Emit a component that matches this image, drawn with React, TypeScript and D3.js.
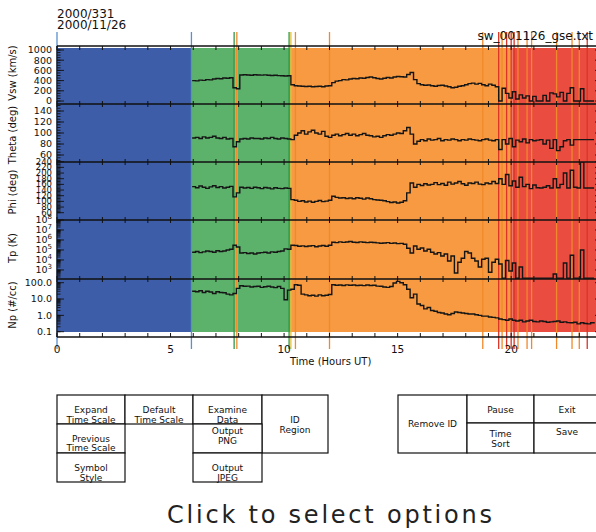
import React from "react";
import * as d3 from "d3";

const DAY_OF_YEAR = "2000/331";
const DATE_TEXT = "2000/11/26";
const FILE_NAME = "sw_001126_gse.txt";
const X_AXIS_TITLE = "Time (Hours UT)";
const FOOTER = "Click to select options";

const START_HOUR = 5.95;
const SAMPLE_HOURS = 0.15;

const VSW = [
  400, 395, 410, 405, 420, 415, 430, 440, 435, 450, 445, 455,
  260, 240,
  510, 515, 510, 505, 515, 510, 508, 512, 505, 500, 505, 498, 495, 490, 495,
  320,
  300, 295, 290, 285, 290, 280, 285, 290, 280, 295, 300,
  360, 390, 400, 420, 415, 430, 440, 435, 450, 445, 460, 470, 455, 440,
  430, 445, 460, 450, 470, 480, 475, 470,
  520, 560, 420, 340, 320, 310,
  315, 300, 290, 305, 310, 295, 280, 260, 270, 290, 300, 320, 340, 350, 330, 345, 320, 300, 330,
  310, 280,
  0, 250, 150, 60, 180, 40, 120, 60, 100, 0, 90, 0, 0, 110, 0, 160, 140, 80, 170, 0, 150, 260, 0, 0, 240, 0, 0, 0, 0,
];

const THETA = [
  91, 92, 90, 93, 91, 92, 94, 91, 90, 92, 89, 90,
  75, 84,
  89, 90, 89, 91, 90, 90, 89, 91, 90, 92, 90, 89, 91, 90, 89,
  88,
  96, 100, 104, 98, 102, 105, 100, 98, 103, 94, 92,
  96, 98, 95, 97, 99, 96, 98, 95, 97, 99, 96, 95, 93, 94,
  92, 95, 97, 96, 98, 100, 99, 104,
  110, 98, 80, 85, 88, 86,
  89, 87, 88, 90, 86, 88, 87, 89, 88, 86, 88, 87, 89, 88, 87, 86, 88, 89, 87, 86, 88,
  70, 88, 80, 90, 75, 87, 84, 89, 82, 88, 86, 87, 88, 80, 87, 72, 88, 68, 75, 86, 88, 78, 88, 88, 88, 88, 88, 88, 88,
];

const PHI = [
  152, 148, 154, 150, 146, 151, 155, 149, 152, 147, 150, 153,
  116, 130,
  150, 147, 149, 146, 150, 148, 145, 149, 147, 144, 148, 146, 145, 147, 146,
  106,
  104, 100, 102, 98, 101, 97, 100, 103, 99, 101, 104,
  118, 114, 112, 113, 110, 112, 109, 113, 111, 108, 112, 109, 106, 105,
  104, 102, 99, 96, 98, 94, 97, 102,
  130, 165, 150, 160,
  156, 162, 158, 160, 166, 159, 163, 157, 168, 161, 165, 170, 162, 157, 165, 163, 168, 161, 159, 165, 162, 170, 163,
  180, 160, 195, 155, 172, 150, 185, 152, 160, 145, 158, 148, 147, 150, 155, 147, 180, 148, 160, 200, 147, 210, 150, 147, 240, 147, 147, 147, 147,
];

const TP = [
  6e4, 7e4, 5.5e4, 6.5e4, 8e4, 7e4, 6e4, 8.5e4, 7e4, 8e4, 1e5, 1.2e5,
  3e5, 2e5,
  5e4, 5.5e4, 4.5e4, 5e4, 4e4, 5e4, 5.5e4, 6e4, 5e4, 6.5e4, 6e4, 7e4, 8e4, 1.3e5, 1.2e5,
  3e5,
  2.8e5, 2.4e5, 2.6e5, 2.2e5, 2.5e5, 2.7e5, 2.1e5, 2.5e5, 2.8e5, 2.4e5, 3e5,
  6e5, 5.5e5, 6.5e5, 5.8e5, 6.2e5, 7e5, 6e5, 5.6e5, 6.5e5, 6e5, 5.4e5, 6e5, 5.6e5, 5.2e5,
  4.7e5, 5e5, 5.4e5, 4.6e5, 5e5, 4.3e5, 4.6e5, 3.8e5,
  1.5e5, 5e4, 2.5e5, 1.2e5,
  1.6e5, 8e4, 1.2e5, 6e4, 4e4, 5.5e4, 2.5e4, 4e4, 8e3, 2.5e4, 5e2, 6e3, 1.5e4, 7e4, 5e4, 1.5e4, 8e3, 2e3, 1.2e4, 1.5e4, 6e2, 6e3, 1.2e4,
  4e3, 150, 9e3, 8e2, 5e3, 150, 2e3, 150, 150, 150, 150, 150, 150, 150, 150, 150, 4e2, 150, 150, 5e3, 150, 3e4, 150, 150, 1e5, 150, 150, 150, 150,
];

const NP = [
  30, 28, 32, 25, 30, 27, 22, 28, 25, 24, 20, 18,
  22, 45,
  65, 60, 62, 55, 58, 60, 52, 57, 60, 55, 50, 58, 45, 9, 35,
  40, 75, 70, 20,
  18, 16, 17, 15, 18, 16, 17, 19,
  75, 70, 72, 68, 74, 70, 72, 68, 70, 66, 72, 68, 70, 62,
  60, 55, 52, 58, 95, 120, 100, 75,
  40, 12, 20, 5,
  4, 2.5, 3, 2, 1.8, 1.5, 1.4, 1.2, 1.1, 1.3, 1.6, 1.5, 1.4, 1.3, 1.2, 1.2, 1.1, 1.0, 0.9, 0.9, 0.8, 0.75, 0.7,
  0.6, 0.55, 0.5, 0.6, 0.5, 0.45, 0.5, 0.4, 0.45, 0.5, 0.42, 0.4, 0.45, 0.42, 0.38, 0.4, 0.42, 0.45, 0.38, 0.4, 0.36, 0.35, 0.38, 0.3, 0.35, 0.32, 0.3, 0.35, 0.32,
];

const HOUR_LABELS = [0, 5, 10, 15, 20];
const VSW_TICKS = [0, 200, 400, 600, 800, 1000];
const THETA_TICKS = [60, 80, 100, 120, 140];
const PHI_TICKS = [60, 80, 100, 120, 140, 160, 180, 200, 220, 240];
const TP_TICKS = [1e3, 1e4, 1e5, 1e6, 1e7, 1e8];
const NP_TICKS = [0.1, 1, 10, 100];

const REGION_FROM = [0, 5.92, 7.82, 7.96, 10.3, 20.05];
const REGION_TO = [5.92, 7.82, 7.96, 10.3, 20.05, 24];
const REGION_TYPE = ["blue", "green", "orange", "green", "orange", "red"];

const MARKER_HOURS = [0, 5.92, 7.8, 7.92, 10.22, 10.3, 10.5, 12.0, 18.75, 19.45, 19.6, 19.8, 20.0, 20.13, 20.3, 20.7, 20.9, 22.0, 22.68, 23.0, 23.35];
const MARKER_TYPE = ["blue", "blue", "green", "orange", "green", "yellow", "orange", "orange", "orange", "red", "orange", "red", "red", "red", "orange", "orange", "orange", "orange", "orange", "orange", "red"];

const BUTTON_LABELS = [
  ["Expand", "Time Scale"],
  ["Default", "Time Scale"],
  ["Examine", "Data"],
  ["ID", "Region"],
  ["Previous", "Time Scale"],
  ["Output", "PNG"],
  ["Symbol", "Style"],
  ["Output", "JPEG"],
  ["Remove ID"],
  ["Pause"],
  ["Exit"],
  ["Time", "Sort"],
  ["Save"],
];

export default function App() {
  const W = 596, H = 532;
  const L = 57, R = 602;
  const x = d3.scaleLinear().domain([0, 24]).range([L, R]);
  const times = VSW.map((_, i) => START_HOUR + i * SAMPLE_HOURS);
  const font = "'DejaVu Sans', sans-serif";
  const bgTop = 48, bgBottom = 332, axisTop = 46, axisBottom = 337;
  const bgFill: Record<string, string> = { blue: "#3e5da8", green: "#5cb16b", orange: "#f79a42", red: "#ea4c40" };
  const markFill: Record<string, string> = { blue: "#5a8fd2", green: "#2e9848", orange: "#f0892a", red: "#dc3427", yellow: "#e8c03a" };

  const tpScale = d3.scaleLog().domain([125, 1e8]).range([279, 220]);
  const npScale = d3.scaleLog().domain([0.1, 100]).range([331.7, 282.7]);

  const panels = [
    { id: "vsw", title: "Vsw (km/s)", top: 46, bottom: 104, mid: 73, y: d3.scaleLinear().domain([0, 1000]).range([101, 50]), data: VSW, ticks: VSW_TICKS, minor: d3.range(0, 1001, 50), kind: "lin", fs: 9.5, fmt: (v: number) => String(v) },
    { id: "theta", title: "Theta (deg)", top: 104, bottom: 162, mid: 135, y: d3.scaleLinear().domain([50, 150]).range([160.5, 105.5]), data: THETA, ticks: THETA_TICKS, minor: d3.range(50, 151, 5), kind: "lin", fs: 9.5, fmt: (v: number) => String(v) },
    { id: "phi", title: "Phi (deg)", top: 162, bottom: 220, mid: 192, y: d3.scaleLinear().domain([60, 240]).range([212.7, 161.7]), data: PHI, ticks: PHI_TICKS, minor: d3.range(60, 241, 5), kind: "lin", fs: 8.5, fmt: (v: number) => String(v) },
    { id: "tp", title: "Tp (K)", top: 220, bottom: 279, mid: 248, y: tpScale, data: TP, ticks: TP_TICKS, minor: tpScale.ticks(), kind: "exp", fs: 9.5, fmt: (v: number) => String(Math.round(Math.log10(v))) },
    { id: "np", title: "Np (#/cc)", top: 279, bottom: 337, mid: 305, y: npScale, data: NP, ticks: NP_TICKS, minor: npScale.ticks(), kind: "lin", fs: 9.5, fmt: (v: number) => v.toFixed(1) },
  ];

  const hours = d3.range(0, 25);
  const boundaries = [46, 104, 162, 220, 279];

  const buttonBoxes = [
    { x0: 57, y0: 395, x1: 125, y1: 424, by: 413 },
    { x0: 125, y0: 395, x1: 193, y1: 424, by: 413 },
    { x0: 193, y0: 395, x1: 262, y1: 424, by: 413 },
    { x0: 262, y0: 395, x1: 328, y1: 453, by: 423 },
    { x0: 57, y0: 424, x1: 125, y1: 453, by: 441.5 },
    { x0: 193, y0: 424, x1: 262, y1: 453, by: 434 },
    { x0: 57, y0: 453, x1: 125, y1: 482, by: 471 },
    { x0: 193, y0: 453, x1: 262, y1: 482, by: 471 },
    { x0: 398, y0: 395, x1: 467, y1: 453, by: 427 },
    { x0: 467, y0: 395, x1: 534, y1: 423, by: 413 },
    { x0: 534, y0: 395, x1: 600, y1: 423, by: 413 },
    { x0: 467, y0: 423, x1: 534, y1: 453, by: 437 },
    { x0: 534, y0: 423, x1: 600, y1: 453, by: 435 },
  ];

  return (
    <svg width={W} height={H} style={{ position: "absolute", left: 0, top: 0, background: "#fff" }} fontFamily={font}>
      <defs>
        {panels.map((p) => (
          <clipPath id={`clip-${p.id}`} key={p.id}>
            <rect x={L} y={p.top} width={R - L} height={p.bottom - p.top} />
          </clipPath>
        ))}
      </defs>

      {REGION_FROM.map((t, i) => (
        <rect key={`r${i}`} x={x(t)} y={bgTop} width={x(REGION_TO[i]) - x(t)} height={bgBottom - bgTop} fill={bgFill[REGION_TYPE[i]]} />
      ))}

      {MARKER_HOURS.map((t, i) => (
        <line key={`m${i}`} x1={x(t)} x2={x(t)} y1={32} y2={349} stroke={markFill[MARKER_TYPE[i]]} strokeWidth={1.3} />
      ))}

      {boundaries.map((b) => (
        <line key={`b${b}`} x1={L} x2={R} y1={b} y2={b} stroke="#111" strokeWidth={1.3} />
      ))}
      <line x1={L} x2={R} y1={axisBottom} y2={axisBottom} stroke="#111" strokeWidth={1.3} />
      <line x1={L} x2={L} y1={axisTop} y2={axisBottom} stroke="#111" strokeWidth={1.3} />
      <line x1={R} x2={R} y1={axisTop} y2={axisBottom} stroke="#111" strokeWidth={1.3} />

      {hours.map((h) => (
        <g key={`h${h}`} stroke="#111" strokeWidth={1}>
          <line x1={x(h)} x2={x(h)} y1={axisTop} y2={axisTop + 4} />
          {boundaries.slice(1).map((b) => (
            <line key={b} x1={x(h)} x2={x(h)} y1={b - 3} y2={b + 3} />
          ))}
          <line x1={x(h)} x2={x(h)} y1={axisBottom - 4} y2={axisBottom} />
        </g>
      ))}

      {panels.map((p) => (
        <g key={`yt-${p.id}`} stroke="#111" strokeWidth={0.9}>
          {p.minor.filter((v) => p.y(v) >= p.top && p.y(v) <= p.bottom).map((v, i) => (
            <g key={i}>
              <line x1={L} x2={L + 3.5} y1={p.y(v)} y2={p.y(v)} />
              <line x1={R} x2={R - 3.5} y1={p.y(v)} y2={p.y(v)} />
            </g>
          ))}
          {p.ticks.map((v, i) => (
            <g key={`M${i}`}>
              <line x1={L} x2={L + 7} y1={p.y(v)} y2={p.y(v)} />
              <line x1={R} x2={R - 7} y1={p.y(v)} y2={p.y(v)} />
            </g>
          ))}
        </g>
      ))}

      {panels.map((p) => {
        const line = d3
          .line<number>()
          .x((_, i) => x(times[i]))
          .y((v) => p.y(v))
          .curve(d3.curveStepAfter);
        return (
          <path key={`d-${p.id}`} d={line(p.data) || ""} fill="none" stroke="#151515" strokeWidth={1.4} clipPath={`url(#clip-${p.id})`} />
        );
      })}

      {panels.map((p) => (
        <g key={`yl-${p.id}`} fontSize={p.fs} fill="#111" textAnchor="end">
          {p.ticks.map((v, i) =>
            p.kind === "exp" ? (
              <text key={i} x={52} y={p.y(v)} dy="0.35em">
                10<tspan dy={-4} fontSize={7}>{p.fmt(v)}</tspan>
              </text>
            ) : (
              <text key={i} x={52} y={p.y(v)} dy="0.35em">{p.fmt(v)}</text>
            )
          )}
        </g>
      ))}

      {panels.map((p) => (
        <text key={`tt-${p.id}`} transform={`translate(16,${p.mid}) rotate(-90)`} textAnchor="middle" fontSize={10} fill="#111">
          {p.title}
        </text>
      ))}

      {HOUR_LABELS.map((h) => (
        <text key={`xl${h}`} x={x(h)} y={353} textAnchor="middle" fontSize={10.5} fill="#111">{h}</text>
      ))}
      <text x={290} y={365} fontSize={10} fill="#111">{X_AXIS_TITLE}</text>

      <text x={57} y={17.5} fontSize={12} fill="#111">{DAY_OF_YEAR}</text>
      <text x={57} y={28.5} fontSize={12} fill="#111">{DATE_TEXT}</text>
      <text x={593} y={40} fontSize={12} textAnchor="end" fill="#111">{FILE_NAME}</text>

      {buttonBoxes.map((b, i) => (
        <g key={`btn${i}`}>
          <rect x={b.x0} y={b.y0} width={b.x1 - b.x0} height={b.y1 - b.y0} fill="#fff" stroke="#111" strokeWidth={1.2} />
          {BUTTON_LABELS[i].map((s, j) => (
            <text key={j} x={(b.x0 + b.x1) / 2} y={b.by + j * 9.5} textAnchor="middle" fontSize={9} fill="#111">{s}</text>
          ))}
        </g>
      ))}

      <text x={167} y={523} fontSize={24} fill="#222" textLength={325} lengthAdjust="spacing">{FOOTER}</text>
    </svg>
  );
}
